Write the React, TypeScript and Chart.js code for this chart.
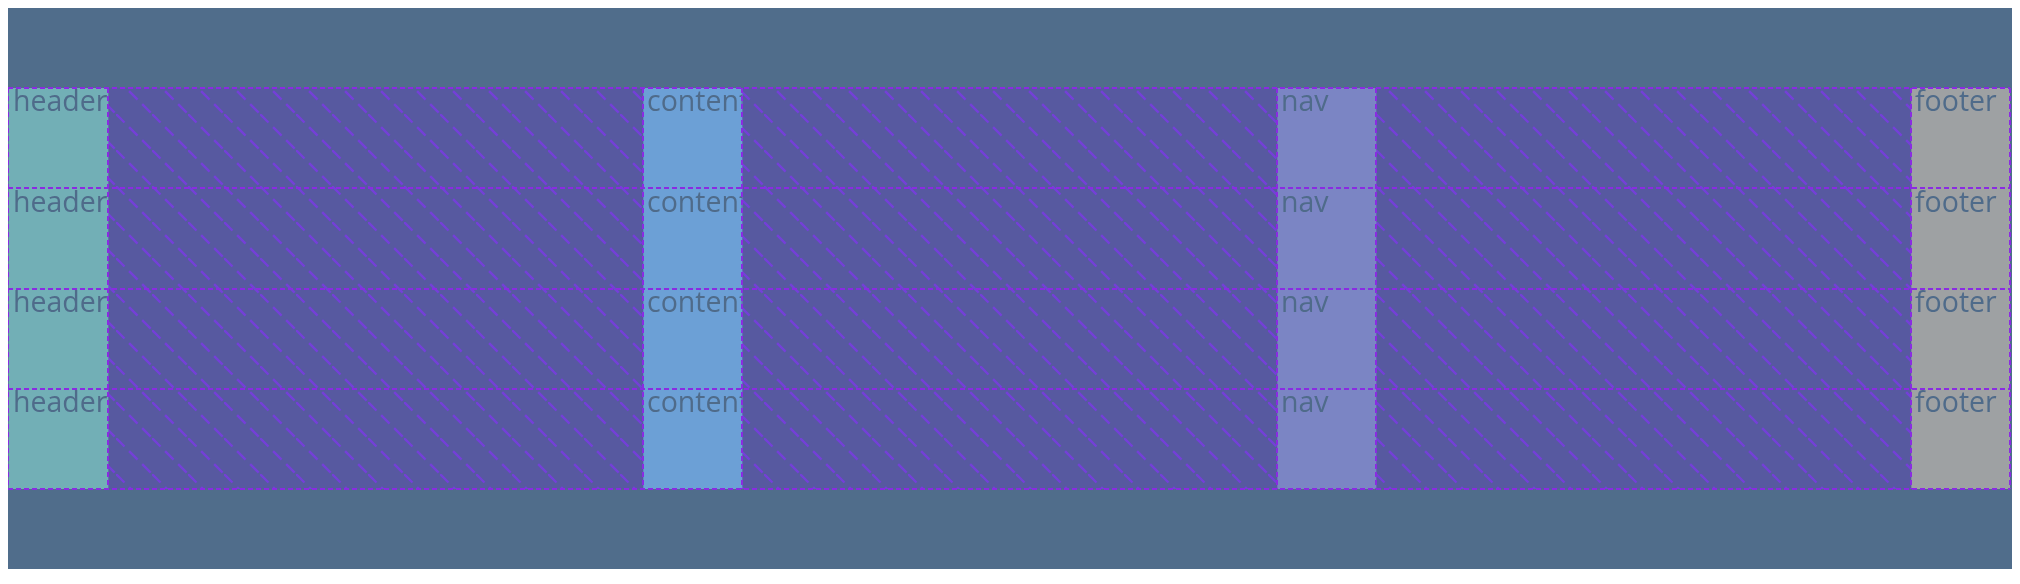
import { useEffect, useRef } from "react";
import { Chart, registerables, Plugin } from "chart.js";

Chart.register(...registerables);

// grid rows and tracks as the inspector shows them
const rows = ["1", "2", "3", "4"];
const trackNames = ["header", "", "content", "", "nav", "", "footer"];
const trackWidths = [100, 535, 99, 535, 99, 535, 99];
const trackColors = ["#72afb6", "gap", "#6ca0d6", "gap", "#7b85c4", "gap", "#9ea1a3"];

const gridPurple = "#8a2be2";

function hatch(ctx: CanvasRenderingContext2D) {
  const c = document.createElement("canvas");
  c.width = 36;
  c.height = 36;
  const g = c.getContext("2d")!;
  g.fillStyle = "#5759a0";
  g.fillRect(0, 0, 36, 36);
  g.strokeStyle = "#7440d8";
  g.lineWidth = 2.4;
  g.setLineDash([12, 6.5]);
  g.beginPath();
  g.moveTo(0, 0);
  g.lineTo(36, 36);
  g.stroke();
  return ctx.createPattern(c, "repeat")!;
}

const labels: Plugin<"bar"> = {
  id: "cellLabels",
  afterDatasetsDraw(chart) {
    const { ctx } = chart;
    chart.data.datasets.forEach((_, i) => {
      const name = trackNames[i];
      if (!name) return;
      chart.getDatasetMeta(i).data.forEach((el: any) => {
        const left = Math.min(el.x, el.base);
        const right = Math.max(el.x, el.base);
        const top = el.y - el.height / 2;
        ctx.save();
        ctx.beginPath();
        ctx.rect(left, top, right - left, el.height);
        ctx.clip();
        ctx.fillStyle = "#4f6b8a";
        ctx.font = "28.5px 'Open Sans'";
        ctx.textBaseline = "top";
        ctx.fillText(name, left + 4, top + 1);
        ctx.restore();
      });
    });
  },
};

const background: Plugin<"bar"> = {
  id: "bg",
  beforeDraw(chart) {
    const { ctx, width, height } = chart;
    ctx.save();
    ctx.fillStyle = "#506d8b";
    ctx.fillRect(0, 0, width, height);
    ctx.restore();
  },
};

export default function App() {
  const canvasRef = useRef<HTMLCanvasElement | null>(null);

  useEffect(() => {
    if (!canvasRef.current) return;
    const ctx = canvasRef.current.getContext("2d");
    if (!ctx) return;
    const pattern = hatch(ctx);
    const total = trackWidths.reduce((a, b) => a + b, 0);
    const bounds: number[] = [0];
    trackWidths.forEach((w) => bounds.push(bounds[bounds.length - 1] + w));

    const chart = new Chart(ctx, {
      type: "bar",
      data: {
        labels: rows,
        datasets: trackWidths.map((w, i) => ({
          label: trackNames[i] || "gap",
          data: rows.map(() => w),
          backgroundColor: trackColors[i] === "gap" ? pattern : trackColors[i],
          borderWidth: 0,
          categoryPercentage: 1,
          barPercentage: 1,
        })),
      },
      options: {
        indexAxis: "y",
        animation: false,
        responsive: true,
        maintainAspectRatio: false,
        layout: { padding: { top: 82, bottom: 80, left: 0, right: 2 } },
        plugins: { legend: { display: false }, tooltip: { enabled: false } },
        scales: {
          x: {
            type: "linear",
            stacked: true,
            min: 0,
            max: total,
            afterBuildTicks: (s) => {
              s.ticks = bounds.map((v) => ({ value: v }));
            },
            ticks: { display: false },
            grid: { z: 1, color: gridPurple, lineWidth: 2, drawTicks: false } as any,
            border: { display: false, dash: [5, 3] },
          },
          y: {
            stacked: true,
            ticks: { display: false },
            grid: { z: 1, offset: true, color: gridPurple, lineWidth: 2, drawTicks: false } as any,
            border: { display: false, dash: [5, 3] },
          },
        },
      },
      plugins: [background, labels],
    });

    return () => chart.destroy();
  }, []);

  return (
    <div style={{ height: 563, marginTop: -2 }}>
      <canvas ref={canvasRef} />
    </div>
  );
}
